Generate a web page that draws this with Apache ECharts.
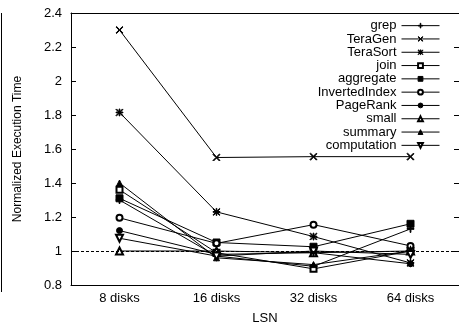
<!DOCTYPE html>
<html>
<head>
<meta charset="utf-8">
<script src="https://cdn.jsdelivr.net/npm/echarts@6/dist/echarts.min.js"></script>
<style>
  html, body { margin: 0; padding: 0; background: #fff; }
  #chart { width: 459px; height: 330px; }
</style>
</head>
<body>
<div id="chart"></div>
<script>
// Disk counts on the x axis
const categories = ['8 disks', '16 disks', '32 disks', '64 disks'];

// Normalized execution time per workload
const grep          = [1.30, 0.97, 0.91, 1.13];
const teraGen       = [2.30, 1.55, 1.555, 1.555];
const teraSort      = [1.815, 1.23, 1.085, 0.93];
const join          = [1.36, 0.99, 0.895, 1.00];
const aggregate     = [1.31, 1.05, 1.025, 1.16];
const invertedIndex = [1.195, 1.045, 1.155, 1.03];
const pageRank      = [1.12, 0.98, 0.99, 0.925];
const small         = [1.00, 1.00, 0.99, 1.00];
const summary       = [1.40, 0.96, 0.92, 1.00];
const computation   = [1.075, 0.97, 1.00, 0.98];

// Value axis range and the reference level
const yMin = 0.8;
const yMax = 2.4;
const yStep = 0.2;
const baseline = 1;

// Marker shapes drawn as filled outlines
const PLUS = 'path://M4.4,0h1.2v4.4h4.4v1.2h-4.4v4.4h-1.2v-4.4h-4.4v-1.2h4.4z';
const CROSS = 'path://M0,0.8L0.8,0L5,4.2L9.2,0L10,0.8L5.8,5L10,9.2L9.2,10L5,5.8L0.8,10L0,9.2L4.2,5Z';
const STAR = 'path://M4.5,0h1v4.5h4.5v1h-4.5v4.5h-1v-4.5h-4.5v-1h4.5z' +
             'M0,0.7L0.7,0L5,4.3L9.3,0L10,0.7L5.7,5L10,9.3L9.3,10L5,5.7L0.7,10L0,9.3L4.3,5Z';

const FONT = 'Liberation Sans, Arial, Helvetica, sans-serif';

function makeSeries(name, data, symbol, size, extra) {
  return Object.assign({
    name: name,
    type: 'line',
    data: data,
    symbol: symbol,
    symbolSize: size,
    showAllSymbol: true,
    animation: false,
    color: '#000',
    lineStyle: { color: '#000', width: 1 },
    itemStyle: { color: '#000', borderColor: '#000', borderWidth: 1 },
    emphasis: { disabled: true }
  }, extra || {});
}

const series = [
  makeSeries('grep', grep, PLUS, 7),
  makeSeries('TeraGen', teraGen, CROSS, 7),
  makeSeries('TeraSort', teraSort, STAR, 7),
  makeSeries('join', join, 'emptyRect', 6),
  makeSeries('aggregate', aggregate, 'rect', 7),
  makeSeries('InvertedIndex', invertedIndex, 'emptyCircle', 6),
  makeSeries('PageRank', pageRank, 'circle', 6),
  makeSeries('small', small, 'emptyTriangle', 7, {
    markLine: {
      silent: true,
      symbol: 'none',
      label: { show: false },
      lineStyle: { color: '#000', type: [3, 2], width: 1 },
      data: [{ yAxis: baseline }],
      animation: false
    }
  }),
  makeSeries('summary', summary, 'triangle', 6),
  makeSeries('computation', computation, 'emptyTriangle', 7, { symbolRotate: 180 })
];

const chart = echarts.init(document.getElementById('chart'), null, { renderer: 'canvas' });

chart.setOption({
  backgroundColor: '#fff',
  animation: false,
  textStyle: { fontFamily: FONT, color: '#000' },
  grid: { left: 71, top: 13, width: 390, height: 277, containLabel: false },
  legend: {
    orient: 'vertical',
    right: 14,
    top: 14,
    align: 'right',
    itemWidth: 38,
    itemHeight: 6,
    itemGap: 0,
    selectedMode: false,
    lineStyle: { width: 1 },
    itemStyle: { borderWidth: 1 },
    textStyle: { fontFamily: FONT, fontSize: 13, color: '#000', lineHeight: 13.3 },
    data: series.map(s => s.name)
  },
  xAxis: [
    {
      type: 'category',
      data: categories,
      position: 'bottom',
      name: 'LSN',
      nameLocation: 'middle',
      nameGap: 27,
      nameTextStyle: { fontFamily: FONT, fontSize: 13, color: '#000' },
      axisLine: { lineStyle: { color: '#000', width: 1 } },
      axisTick: { inside: true, alignWithLabel: true, length: 5, lineStyle: { color: '#000' } },
      axisLabel: { fontFamily: FONT, fontSize: 13, color: '#000', margin: 7 },
      splitLine: { show: false }
    },
    {
      type: 'category',
      data: categories,
      position: 'top',
      axisLine: { lineStyle: { color: '#000', width: 1 } },
      axisTick: { inside: true, alignWithLabel: true, length: 5, lineStyle: { color: '#000' } },
      axisLabel: { show: false },
      splitLine: { show: false }
    }
  ],
  yAxis: [
    {
      type: 'value',
      min: yMin,
      max: yMax,
      interval: yStep,
      position: 'left',
      name: 'Normalized Execution Time',
      nameLocation: 'middle',
      nameRotate: 90,
      nameGap: 47,
      nameTextStyle: { fontFamily: FONT, fontSize: 12, color: '#000' },
      axisLine: { show: true, lineStyle: { color: '#000', width: 1 } },
      axisTick: { show: true, inside: true, length: 5, lineStyle: { color: '#000' } },
      axisLabel: { fontFamily: FONT, fontSize: 13, color: '#000', margin: 9 },
      splitLine: { show: false }
    },
    {
      type: 'value',
      min: yMin,
      max: yMax,
      interval: yStep,
      position: 'right',
      axisLine: { show: true, lineStyle: { color: '#000', width: 1 } },
      axisTick: { show: true, inside: true, length: 5, lineStyle: { color: '#000' } },
      axisLabel: { show: false },
      splitLine: { show: false }
    }
  ],
  graphic: [
    {
      type: 'line',
      shape: { x1: 1.5, y1: 13, x2: 1.5, y2: 292 },
      style: { stroke: '#000', lineWidth: 1 },
      silent: true
    }
  ],
  series: series
});
</script>
</body>
</html>
